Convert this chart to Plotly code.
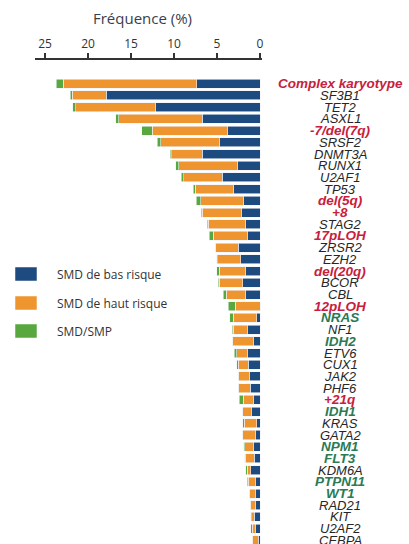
import plotly.graph_objects as go

# Row labels, top to bottom
labels = ["Complex karyotype", "SF3B1", "TET2", "ASXL1", "-7/del(7q)", "SRSF2", "DNMT3A",
          "RUNX1", "U2AF1", "TP53", "del(5q)", "+8", "STAG2", "17pLOH", "ZRSR2", "EZH2",
          "del(20q)", "BCOR", "CBL", "12pLOH", "NRAS", "NF1", "IDH2", "ETV6", "CUX1",
          "JAK2", "PHF6", "+21q", "IDH1", "KRAS", "GATA2", "NPM1", "FLT3", "KDM6A",
          "PTPN11", "WT1", "RAD21", "KIT", "U2AF2", "CEBPA"]

# Cytogenetic abnormalities (red) and genes shown in green
cyto_labels = ["Complex karyotype", "-7/del(7q)", "del(5q)", "+8", "17pLOH", "del(20q)",
               "12pLOH", "+21q"]
green_labels = ["NRAS", "IDH2", "IDH1", "NPM1", "FLT3", "PTPN11", "WT1"]

# Frequency (%) per subgroup
smd_low = [7.36, 17.9, 12.1, 6.7, 3.75, 4.69, 6.7, 2.64, 4.38, 3.1,
           1.94, 2.13, 1.74, 1.43, 2.52, 2.24, 1.74, 2.01, 1.74, 0.0,
           0.39, 1.43, 0.7, 1.43, 1.36, 1.24, 1.16, 0.78, 0.97, 0.39,
           0.5, 0.78, 0.66, 1.05, 0.5, 0.5, 0.5, 0.66, 0.5, 0.2]
smd_high = [15.5, 3.95, 9.3, 9.7, 8.77, 6.86, 3.56, 6.78, 4.49, 4.45,
            4.95, 4.58, 4.27, 4.0, 2.67, 2.67, 2.99, 2.72, 2.2, 2.9,
            2.72, 1.67, 2.48, 1.28, 1.16, 1.28, 1.36, 1.16, 1.05, 1.44,
            1.51, 0.97, 1.08, 0.43, 0.86, 0.74, 0.66, 0.3, 0.4, 0.7]
smd_smp = [0.85, 0.2, 0.38, 0.38, 1.23, 0.4, 0.2, 0.35, 0.31, 0.2,
           0.55, 0.1, 0.1, 0.47, 0.0, 0.1, 0.3, 0.1, 0.31, 0.78,
           0.39, 0.15, 0.0, 0.27, 0.19, 0.0, 0.0, 0.47, 0.0, 0.19,
           0.0, 0.12, 0.05, 0.19, 0.12, 0.0, 0.0, 0.12, 0.15, 0.0]

series_names = ["SMD de bas risque", "SMD de haut risque", "SMD/SMP"]
series_colors = ["#1d4a7f", "#ef952f", "#58a83f"]
x_ticks = [25, 20, 15, 10, 5, 0]

W, H = 409, 544
ML, MR, MT, MB = 35, W - 262, 60, 0
PW, PH = W - ML - MR, H - MT - MB


def px_x(px):
    return (px - ML) / PW


def px_y(py):
    return (H - MB - py) / PH


row_pos = list(range(len(labels)))

fig = go.Figure()
for vals, name, color in zip([smd_low, smd_high, smd_smp], series_names, series_colors):
    fig.add_trace(go.Bar(
        x=vals, y=row_pos, orientation="h", name=name,
        marker=dict(color=color, line=dict(color="#eef2f7", width=0.6)),
        showlegend=False,
    ))

# Row labels, centred to the right of the bars
for pos, lab in zip(row_pos, labels):
    if lab in cyto_labels:
        color, bold = "#c8203c", True
    elif lab in green_labels:
        color, bold = "#2a7a55", True
    else:
        color, bold = "#262626", False
    fig.add_annotation(
        x=px_x(340), xref="paper", y=pos, yref="y",
        text=f"<i><b>{lab}</b></i>" if bold else f"<i>{lab}</i>",
        showarrow=False, xanchor="center", yanchor="middle",
        font=dict(family="Liberation Sans", size=13.5 if bold else 13, color=color),
    )

# Legend drawn as swatches with captions
legend_rows = [(267, 281), (296, 310), (324, 338)]
for (y0, y1), name, color in zip(legend_rows, series_names, series_colors):
    fig.add_shape(type="rect", xref="paper", yref="paper",
                  x0=px_x(15), x1=px_x(37), y0=px_y(y1), y1=px_y(y0),
                  fillcolor=color, line=dict(color="rgba(255,255,255,0.5)", width=1))
    fig.add_annotation(x=px_x(55), xref="paper", y=px_y((y0 + y1) / 2), yref="paper",
                       text=name, showarrow=False, xanchor="left", yanchor="middle",
                       font=dict(family="Open Sans", size=12, color="#333333"))

# Axis title
fig.add_annotation(x=px_x(142), xref="paper", y=px_y(18), yref="paper",
                   text="Fréquence (%)", showarrow=False, xanchor="center", yanchor="middle",
                   font=dict(family="Open Sans", size=15, color="#3a3d4c"))

fig.update_layout(
    width=W, height=H,
    margin=dict(l=ML, r=MR, t=MT, b=MB, pad=0),
    barmode="stack", bargap=0.23,
    paper_bgcolor="white", plot_bgcolor="white",
    xaxis=dict(
        side="top", range=[(260 - ML) / 8.6, -(262 - 260) / 8.6],
        tickmode="array", tickvals=x_ticks, ticktext=[str(t) for t in x_ticks],
        ticks="outside", ticklen=5, tickwidth=1.5, tickcolor="#333333",
        showline=True, linecolor="#333333", linewidth=1.5,
        showgrid=False, zeroline=False,
        tickfont=dict(family="Open Sans", size=12, color="#333333"),
    ),
    yaxis=dict(
        range=[39.31, -2.03], showticklabels=False, ticks="",
        showgrid=False, zeroline=False, showline=False,
    ),
)

fig.write_html("out.html")
